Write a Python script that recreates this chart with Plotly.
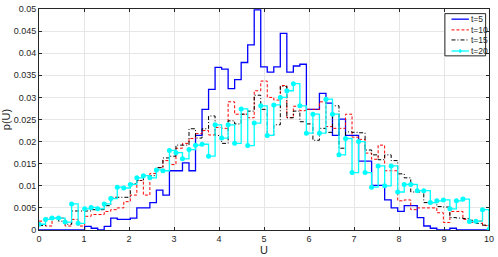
import numpy as np
import plotly.graph_objs as go

# stairs start points: 70 points from 0 to 10 (69 steps)
U_POINTS = np.linspace(0, 10, 70)

P_T5 = [0, 0, 0, 0, 0, 0, 0, 0.0008, 0.0004, 0, 0.0008, 0.0027, 0.0024, 0.0024,
        0.0027, 0.005, 0.005, 0.0062, 0.009, 0.0079, 0.0134, 0.0134, 0.0152, 0.0134,
        0.0214, 0.0273, 0.0318, 0.0368, 0.0364, 0.032, 0.034, 0.0379, 0.0419, 0.0498,
        0.0369, 0.0357, 0.0369, 0.0445, 0.0357, 0.0371, 0.0375, 0.0273, 0.0273, 0.0309,
        0.0287, 0.0214, 0.0251, 0.0214, 0.0214, 0.0156, 0.0156, 0.0101, 0.0101, 0.0068,
        0.005, 0.0042, 0.0055, 0.0055, 0.0028, 0.0009, 0.0004, 0, 0, 0.0004,
        0, 0, 0, 0, 0, 0]

P_T10 = [0.002, 0.0009, 0.0027, 0.0027, 0.0009, 0.0024, 0.0009, 0.0031, 0.0035, 0.0035,
         0.0042, 0.0046, 0.005, 0.0064, 0.0079, 0.0112, 0.0079, 0.0128, 0.0141, 0.0157,
         0.0148, 0.0185, 0.0196, 0.0207, 0.0218, 0.0225, 0.0215, 0.0232, 0.023, 0.029,
         0.0262, 0.0262, 0.0254, 0.0315, 0.0337, 0.03, 0.0294, 0.0327, 0.0254, 0.028,
         0.027, 0.0273, 0.0273, 0.029, 0.0234, 0.023, 0.023, 0.0262, 0.021, 0.0205,
         0.0174, 0.016, 0.0192, 0.0134, 0.0134, 0.0066, 0.0068, 0.0046, 0.005, 0.005,
         0.005, 0.0039, 0.0017, 0.0042, 0.0042, 0.0024, 0.0017, 0.002, 0.001, 0.0005]

P_T15 = [0.001, 0.0027, 0.0027, 0.002, 0.0013, 0.0043, 0.0043, 0.0043, 0.0046, 0.0046,
         0.0055, 0.0074, 0.0074, 0.0074, 0.0105, 0.0112, 0.0123, 0.0123, 0.0141, 0.0163,
         0.0167, 0.0192, 0.0192, 0.0229, 0.0208, 0.0229, 0.0258, 0.0214, 0.0196, 0.0247,
         0.024, 0.0262, 0.0269, 0.0305, 0.0273, 0.0214, 0.0238, 0.0325, 0.0254, 0.0269,
         0.0245, 0.024, 0.0203, 0.023, 0.0221, 0.0281, 0.0185, 0.0222, 0.0221, 0.022,
         0.0181, 0.017, 0.0159, 0.017, 0.0157, 0.0127, 0.0118, 0.0086, 0.0086, 0.0062,
         0.0062, 0.0053, 0.0052, 0.0028, 0.0027, 0.0026, 0.0022, 0.0015, 0.0011, 0.0009]

P_T20 = [0.0013, 0.0024, 0.0027, 0.0027, 0.0018, 0.0059, 0.0015, 0.0048, 0.0051, 0.0048,
         0.0059, 0.0071, 0.0097, 0.0095, 0.0103, 0.0118, 0.0123, 0.0118, 0.0136, 0.0134,
         0.018, 0.0175, 0.0161, 0.0182, 0.0192, 0.0194, 0.0167, 0.0238, 0.0208, 0.0238,
         0.0196, 0.0274, 0.0191, 0.0242, 0.0281, 0.0214, 0.0283, 0.03, 0.0315, 0.0331,
         0.0281, 0.0219, 0.0262, 0.0219, 0.0296, 0.0262, 0.017, 0.0207, 0.013, 0.02,
         0.013, 0.0097, 0.0145, 0.01, 0.0145, 0.0086, 0.0103, 0.0103, 0.0089, 0.0089,
         0.0062, 0.0066, 0.0068, 0.0048, 0.0066, 0.007, 0.0019, 0.002, 0.0046, 0.0001]

SERIES_NAMES = ["t=5", "t=10", "t=15", "t=20"]

AXIS_COLOR = '#262626'
FONT = 'Liberation Sans, Arial, sans-serif'
BLUE_LINE = dict(color='#0000ff', width=1.3)
RED_LINE = dict(color='#ff0000', width=1, dash='3px,2px')
BLACK_LINE = dict(color='#000000', width=1, dash='4px,2px,1px,2px')
CYAN_LINE = dict(color='#00ffff', width=1.3)
STYLES = [BLUE_LINE, RED_LINE, BLACK_LINE, CYAN_LINE]

fig = go.Figure()

for name, vals, style in zip(SERIES_NAMES, [P_T5, P_T10, P_T15, P_T20], STYLES):
  mode = "lines+markers" if name == "t=20" else "lines"
  fig.add_trace(go.Scatter(x=U_POINTS, y=vals, mode=mode, name=name, line_shape="hv",
                           line=style, marker=dict(color='#00ffff', size=5),
                           showlegend=False))

# matlab-like compact legend box, drawn by hand
fig.add_shape(type="rect", xref="paper", yref="paper", x0=0.902, x1=0.9925, y0=0.788, y1=0.979,
              line=dict(color=AXIS_COLOR, width=1), fillcolor="white", layer="above")
leg_y = [0.954, 0.9055, 0.860, 0.810]
for name, style, ly in zip(SERIES_NAMES, STYLES, leg_y):
  fig.add_shape(type="line", xref="paper", yref="paper", x0=0.9166, x1=0.9553, y0=ly, y1=ly,
                line=style, layer="above")
  fig.add_annotation(x=0.9565, y=ly, xref="paper", yref="paper", text=name, showarrow=False,
                     xanchor="left", yanchor="middle", font=dict(size=8.5, color=AXIS_COLOR))
fig.add_shape(type="circle", xref="paper", yref="paper", x0=0.9335, x1=0.9385,
              y0=leg_y[3] - 0.0095, y1=leg_y[3] + 0.0095,
              line=dict(color='#00ffff', width=0), fillcolor='#00ffff', layer="above")

fig.update_xaxes(title_text="U", range=[0, 10], tick0=0, dtick=1,
                 showline=True, linecolor=AXIS_COLOR, linewidth=1, mirror='ticks',
                 ticks='inside', ticklen=3, tickcolor=AXIS_COLOR,
                 showgrid=True, gridcolor='#e6e6e6', zeroline=False,
                 ticklabeloverflow='allow',
                 tickfont=dict(size=9, color=AXIS_COLOR),
                 title_font=dict(size=11, color=AXIS_COLOR), title_standoff=2)
fig.update_yaxes(title_text="p(U)", range=[0, 0.05], tick0=0, dtick=0.005,
                 showline=True, linecolor=AXIS_COLOR, linewidth=1, mirror='ticks',
                 ticks='inside', ticklen=3, tickcolor=AXIS_COLOR,
                 showgrid=True, gridcolor='#e6e6e6', zeroline=False,
                 ticklabeloverflow='allow',
                 tickfont=dict(size=9, color=AXIS_COLOR),
                 title_font=dict(size=11, color=AXIS_COLOR), title_standoff=2)

fig.layout.update(
  width=498, height=257,
  margin=dict(l=38, r=5, t=4, b=26),
  template="plotly_white",
  plot_bgcolor='white',
  font=dict(family=FONT, size=9, color=AXIS_COLOR),
  showlegend=False,
)

config = {'displayModeBar': False}

fig.write_html("out.html", config=config, post_script="document.body.style.margin='0';")
